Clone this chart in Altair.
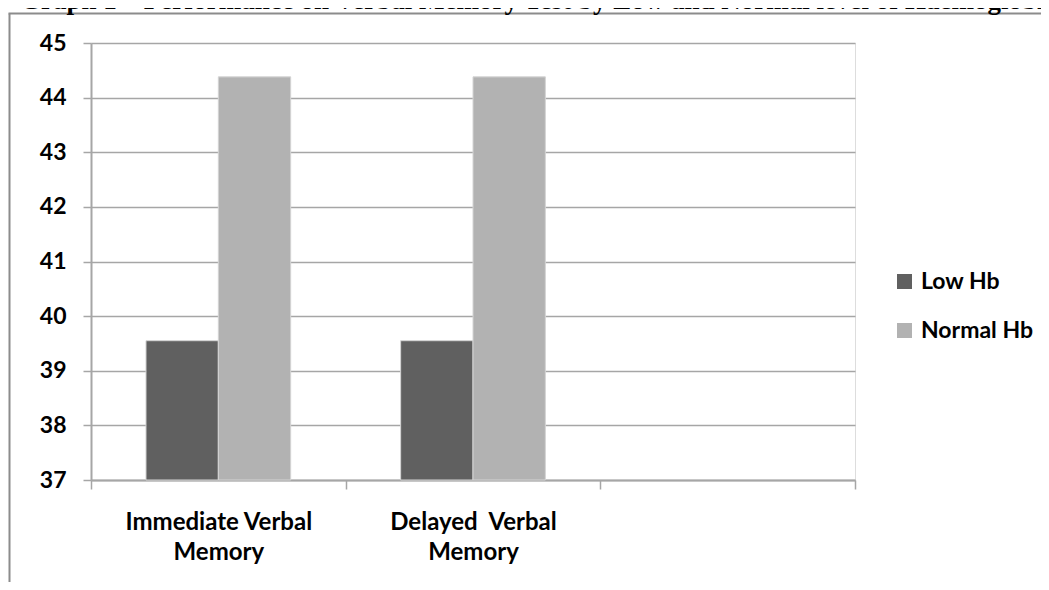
import altair as alt
import pandas as pd

categories = ["Immediate Verbal|Memory", "Delayed\u00a0 Verbal|Memory", "_empty_"]
series = ["Low Hb", "Normal Hb"]
low_hb = [39.55, 39.55]
normal_hb = [44.38, 44.38]
y_ticks = [37, 38, 39, 40, 41, 42, 43, 44, 45]
title_text = "Graph 1 \u2013 Performance on Verbal Memory Test by Low and Normal level of Haemoglobin"

rows = []
for i, cat in enumerate(categories[:2]):
    rows.append({"cat": cat, "series": "Low Hb", "value": low_hb[i]})
    rows.append({"cat": cat, "series": "Normal Hb", "value": normal_hb[i]})
df = pd.DataFrame(rows)

W = 764
H = 437
PAD = {"left": 83, "top": 35, "right": 186, "bottom": 102}

bars = alt.Chart(df).mark_bar(stroke="#d4d4d4", strokeWidth=1).encode(
    x=alt.X("cat:N", sort=categories,
            scale=alt.Scale(domain=categories, paddingInner=0, paddingOuter=0),
            axis=alt.Axis(title=None, labelAngle=0, tickBand="extent",
                          labelExpr="isString(datum.value) && datum.value != '_empty_' ? split(datum.value, '|') : ''",
                          labelFont="Lato", labelFontWeight="bold", labelFontSize=24,
                          labelColor="#000000", labelLineHeight=30, labelLimit=0,
                          labelPadding=21, tickSize=9, tickColor="#a6a6a6", tickWidth=1.5,
                          domainColor="#a6a6a6", domainWidth=2, grid=False, labelBaseline="top")),
    xOffset=alt.XOffset("series:N", sort=series,
                        scale=alt.Scale(domain=series, paddingInner=0, paddingOuter=0.76)),
    y=alt.Y("value:Q", scale=alt.Scale(domain=[37, 45], zero=False, nice=False),
            axis=alt.Axis(title=None, values=y_ticks, format="d",
                          labelFont="Lato", labelFontWeight="bold", labelFontSize=23,
                          labelColor="#000000", labelPadding=17,
                          tickSize=8, tickColor="#a6a6a6", tickWidth=1.5,
                          domainColor="#a6a6a6", domainWidth=2,
                          grid=True, gridColor="#a6a6a6", gridWidth=1.5)),
    y2=alt.Y2(datum=37),
    color=alt.Color("series:N", sort=series,
                    scale=alt.Scale(domain=series, range=["#606060", "#b2b2b2"]),
                    legend=alt.Legend(title=None, orient="none", legendX=802, legendY=227,
                                      symbolType="square", symbolSize=225,
                                      symbolStrokeWidth=0,
                                      labelFont="Lato", labelFontWeight="bold",
                                      labelFontSize=23, labelColor="#000000",
                                      rowPadding=25, labelOffset=5)),
)

title = alt.Chart(pd.DataFrame({"t": [title_text]})).mark_text(
    align="left", baseline="alphabetic", font="Liberation Serif",
    fontWeight="bold", fontSize=27, color="#000000"
).encode(x=alt.value(-71), y=alt.value(-34), text="t:N")

frame_left = alt.Chart(pd.DataFrame({"a": [0]})).mark_rule(
    color="#8c8c8c", strokeWidth=2
).encode(x=alt.value(-81.5), y=alt.value(-29.5), y2=alt.value(H + PAD["bottom"] + 12))

frame_top = alt.Chart(pd.DataFrame({"a": [0]})).mark_rule(
    color="#8c8c8c", strokeWidth=2
).encode(x=alt.value(-82.5), x2=alt.value(W + PAD["right"] + 12), y=alt.value(-29.5))

chart = alt.layer(frame_left, frame_top, bars, title).properties(
    width=W, height=H,
    padding=PAD,
    autosize=alt.AutoSizeParams(type="none"),
).configure_view(stroke=None).configure(background="#ffffff")

chart.save("out.html", embed_options={"renderer": "svg", "actions": False})
